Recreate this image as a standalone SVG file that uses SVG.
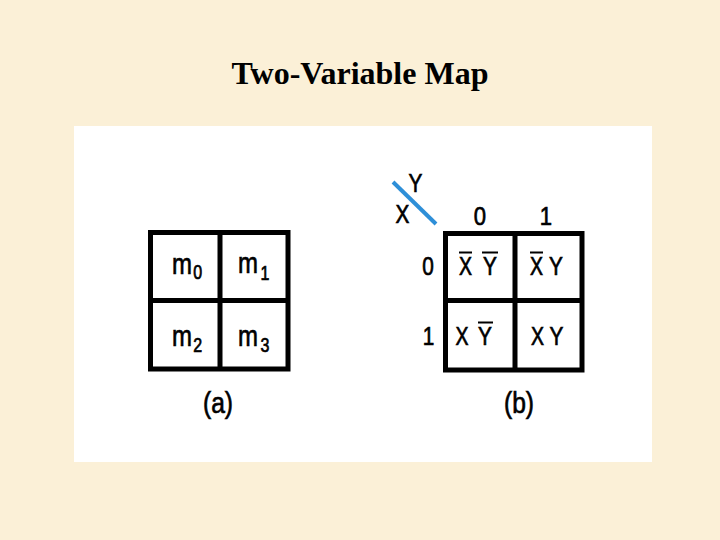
<svg xmlns="http://www.w3.org/2000/svg" width="720" height="540" viewBox="0 0 720 540">
<style>
.t{font-family:"Liberation Sans",Arial,sans-serif;font-size:26px;fill:#000;stroke:#000;stroke-width:0.7;text-anchor:middle}
.m{font-family:"Liberation Sans",Arial,sans-serif;font-size:30px;fill:#000;stroke:#000;stroke-width:0.7}
.sub{font-size:20px}
.grid{fill:#fff;stroke:#000;stroke-width:5}
.bar{stroke:#000;stroke-width:2}
</style>
<rect width="720" height="540" fill="#FBF0D7"/>
<text x="360" y="84" font-family="'Liberation Serif','Times New Roman',serif" font-weight="bold" font-size="32" text-anchor="middle" fill="#000">Two-Variable Map</text>
<rect x="74" y="126" width="578" height="336" fill="#fff"/>
<g id="mapA">
<rect class="grid" x="150.5" y="232.5" width="137.5" height="136.5"/>
<line x1="220" y1="232" x2="220" y2="369" stroke="#000" stroke-width="5"/>
<line x1="150" y1="300.5" x2="288" y2="300.5" stroke="#000" stroke-width="5"/>
<text class="m" transform="translate(172,0) scale(0.8,1)" x="0" y="274">m<tspan class="sub" x="26.5" y="279">0</tspan></text>
<text class="m" transform="translate(238,0) scale(0.8,1)" x="0" y="273">m<tspan class="sub" x="28" y="280">1</tspan></text>
<text class="m" transform="translate(172,0) scale(0.8,1)" x="0" y="346">m<tspan class="sub" x="26.5" y="352">2</tspan></text>
<text class="m" transform="translate(238,0) scale(0.8,1)" x="0" y="346">m<tspan class="sub" x="28" y="352">3</tspan></text>
<text class="t" transform="translate(218,413) scale(0.82,1)" style="font-size:30px">(a)</text>
</g>
<g id="mapB">
<rect class="grid" x="445.5" y="233.5" width="136.5" height="136.5"/>
<line x1="515" y1="233" x2="515" y2="370" stroke="#000" stroke-width="5"/>
<line x1="445" y1="300.5" x2="582" y2="300.5" stroke="#000" stroke-width="5"/>
<text class="t" transform="translate(480,225) scale(0.85,1)">0</text>
<text class="t" transform="translate(546,225) scale(0.85,1)">1</text>
<text class="t" transform="translate(428,275) scale(0.8,1)">0</text>
<text class="t" transform="translate(428.5,345) scale(0.8,1)">1</text>
<text class="t" transform="translate(402.5,223) scale(0.8,1)">X</text>
<text class="t" transform="translate(415.5,192) scale(0.8,1)">Y</text>
<text class="t" transform="translate(465.5,275) scale(0.75,1)">X</text>
<text class="t" transform="translate(490,275) scale(0.8,1)">Y</text>
<text class="t" transform="translate(536.5,275) scale(0.75,1)">X</text>
<text class="t" transform="translate(556,275) scale(0.8,1)">Y</text>
<text class="t" transform="translate(462,345) scale(0.75,1)">X</text>
<text class="t" transform="translate(485,345) scale(0.8,1)">Y</text>
<text class="t" transform="translate(537.5,345) scale(0.75,1)">X</text>
<text class="t" transform="translate(556.5,345) scale(0.8,1)">Y</text>
<line class="bar" x1="459" y1="252.5" x2="472" y2="252.5"/>
<line class="bar" x1="482" y1="252.5" x2="498" y2="252.5"/>
<line class="bar" x1="530" y1="252.5" x2="543" y2="252.5"/>
<line class="bar" x1="478" y1="322.5" x2="493" y2="322.5"/>
<text class="t" transform="translate(519,413) scale(0.82,1)" style="font-size:30px">(b)</text>
</g>
<g id="connectors">
<line x1="393" y1="182" x2="436" y2="224" stroke="#2E8FD8" stroke-width="4"/>
</g>
</svg>
